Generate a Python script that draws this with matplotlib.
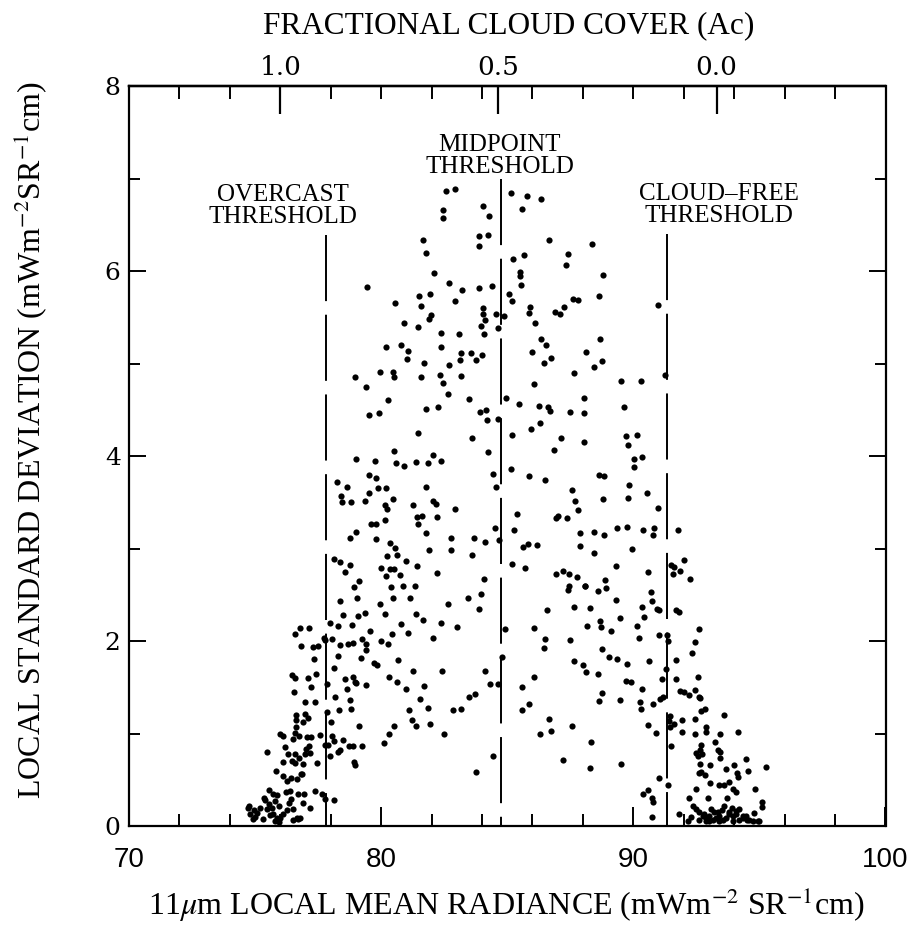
import matplotlib
matplotlib.use('Agg')
import matplotlib.pyplot as plt

# ====================================================================
# DATA (deskewed by eye)
# ====================================================================
# upper part of the broken-cloud arch (std dev ~4.8 - 6.9)
upper_pts = [
    (82.57, 6.87), (82.94, 6.89), (85.14, 6.84), (85.77, 6.81), (86.33, 6.78),
    (84.02, 6.70), (84.26, 6.60), (82.44, 6.66), (82.47, 6.57), (85.60, 6.67),
    (83.86, 6.38), (84.23, 6.39), (83.86, 6.27), (81.66, 6.34), (81.79, 6.20),
    (86.66, 6.33), (88.37, 6.29), (87.42, 6.18), (87.31, 6.07), (85.22, 6.13),
    (85.68, 6.17), (82.08, 5.98), (85.51, 5.99), (85.49, 5.95), (85.55, 5.85),
    (88.79, 5.96), (79.44, 5.83), (82.68, 5.87), (83.20, 5.79), (83.87, 5.82),
    (84.39, 5.84), (81.49, 5.73), (81.92, 5.75), (85.06, 5.75), (85.18, 5.68),
    (82.91, 5.68), (80.55, 5.65), (81.58, 5.62), (88.64, 5.73), (87.59, 5.70),
    (87.82, 5.69), (90.98, 5.63), (85.91, 5.61), (85.87, 5.55), (84.05, 5.60),
    (84.03, 5.54), (84.10, 5.47), (83.94, 5.41), (84.07, 5.32), (84.56, 5.54),
    (84.86, 5.51), (84.64, 5.38), (81.97, 5.52), (81.88, 5.48), (86.89, 5.56),
    (87.09, 5.54), (87.24, 5.61), (80.89, 5.44), (81.46, 5.39), (86.11, 5.44),
    (82.39, 5.33), (83.08, 5.32), (86.32, 5.26), (86.55, 5.20), (80.21, 5.18),
    (80.78, 5.20), (81.07, 5.14), (81.04, 5.05), (82.39, 5.18), (88.68, 5.26),
    (88.11, 5.12), (85.97, 5.12), (86.74, 5.06), (86.46, 5.01), (83.18, 5.11),
    (83.57, 5.11), (83.77, 5.04), (84.01, 5.09), (83.14, 5.04), (81.70, 5.01),
    (82.68, 4.98), (79.94, 4.91), (80.47, 4.91), (80.50, 4.85), (78.95, 4.85),
    (81.59, 4.85), (82.35, 4.88), (83.18, 4.87), (87.66, 4.90), (88.45, 4.96),
    (88.76, 5.03),
]

# middle band (std dev ~2.5 - 4.9)
middle_pts = [
    (79.39, 4.75), (80.29, 4.61), (79.51, 4.44), (79.93, 4.47), (81.78, 4.51),
    (82.27, 4.53), (82.44, 4.79), (82.64, 4.67), (83.50, 4.62), (83.90, 4.48),
    (84.15, 4.50), (84.18, 4.39), (84.63, 4.40), (84.96, 4.63), (85.46, 4.56),
    (86.25, 4.54), (86.61, 4.53), (86.69, 4.49), (86.07, 4.78), (88.06, 4.63),
    (87.48, 4.48), (88.05, 4.47), (89.52, 4.81), (90.31, 4.81), (89.63, 4.53),
    (91.26, 4.88), (81.46, 4.25), (83.62, 4.19), (85.18, 4.23), (85.96, 4.29),
    (86.29, 4.36), (87.15, 4.20), (88.05, 4.15), (89.71, 4.22), (90.15, 4.23),
    (89.77, 4.12), (84.25, 4.04), (86.87, 4.07), (80.50, 4.05), (79.01, 3.97),
    (79.75, 3.95), (80.58, 3.92), (80.89, 3.89), (81.38, 3.93), (81.86, 3.92),
    (82.05, 4.01), (82.36, 3.95), (90.02, 3.97), (90.34, 3.99), (90.02, 3.88),
    (85.13, 3.86), (84.42, 3.81), (84.55, 3.67), (85.88, 3.78), (86.51, 3.74),
    (88.62, 3.80), (88.82, 3.78), (79.52, 3.79), (79.81, 3.76), (78.24, 3.72),
    (78.63, 3.67), (81.76, 3.67), (79.88, 3.65), (80.19, 3.65), (78.40, 3.57),
    (78.45, 3.50), (78.82, 3.50), (79.51, 3.60), (79.36, 3.51), (80.45, 3.54),
    (87.58, 3.63), (89.81, 3.69),
    (80.14, 3.47), (80.23, 3.43), (81.26, 3.47), (82.04, 3.51), (82.18, 3.48),
    (82.91, 3.43), (87.68, 3.51), (87.79, 3.42), (88.78, 3.54), (89.80, 3.55),
    (90.54, 3.60), (90.96, 3.44), (81.42, 3.34), (81.60, 3.35), (81.46, 3.26),
    (82.21, 3.34), (80.16, 3.31), (79.59, 3.27), (79.80, 3.26), (85.38, 3.37),
    (86.93, 3.33), (87.03, 3.35), (87.35, 3.33), (79.01, 3.18), (78.78, 3.11),
    (79.81, 3.10), (81.78, 3.17), (84.52, 3.22), (84.68, 3.09), (85.27, 3.20),
    (87.88, 3.17), (88.44, 3.18), (88.85, 3.15), (89.35, 3.22), (89.73, 3.23),
    (90.39, 3.20), (90.80, 3.22), (90.77, 3.15), (91.79, 3.20), (82.75, 3.11),
    (83.70, 3.11), (84.11, 3.07), (80.34, 3.06), (80.55, 3.01), (81.89, 2.98),
    (82.76, 2.98), (83.62, 2.93), (85.64, 3.02), (85.82, 3.05), (86.18, 3.04),
    (87.87, 3.03), (88.44, 2.95), (89.94, 3.00), (78.12, 2.89), (78.37, 2.85),
    (78.58, 2.75), (78.78, 2.82), (80.23, 2.92), (80.63, 2.93), (80.97, 2.87),
    (80.01, 2.79), (80.36, 2.78), (80.50, 2.78), (80.18, 2.70), (80.73, 2.71),
    (81.41, 2.81), (82.21, 2.73), (85.18, 2.83), (85.72, 2.79), (86.93, 2.72),
    (87.20, 2.76), (87.45, 2.72), (87.75, 2.69), (88.08, 2.60), (89.31, 2.81),
    (90.60, 2.75), (88.87, 2.66), (91.51, 2.82), (91.62, 2.80), (91.99, 2.88),
    (91.84, 2.76), (91.58, 2.72), (92.23, 2.67), (79.11, 2.65), (78.94, 2.58),
    (80.39, 2.58), (80.87, 2.59), (81.34, 2.59), (84.06, 2.67), (87.45, 2.60),
    (88.10, 2.59),
]

# lower left: near-overcast side (std dev < 2.5)
lower_left_pts = [
    (78.37, 2.43), (79.04, 2.47), (80.47, 2.46), (81.14, 2.47), (79.97, 2.40),
    (82.66, 2.40), (83.44, 2.47), (83.86, 2.35), (83.94, 2.51), (78.49, 2.28),
    (79.10, 2.27), (79.35, 2.30), (80.14, 2.29), (81.37, 2.29), (81.66, 2.23),
    (77.98, 2.20), (78.27, 2.16), (78.85, 2.17), (82.38, 2.20), (80.77, 2.18),
    (76.80, 2.14), (77.13, 2.14), (76.58, 2.08), (77.73, 2.03), (77.77, 2.01),
    (78.07, 2.02), (79.56, 2.11), (80.43, 2.08), (81.06, 2.09), (82.05, 2.03),
    (83.00, 2.15), (84.92, 2.13), (76.82, 1.95), (77.30, 1.94), (77.51, 1.95),
    (78.38, 1.96), (78.69, 1.97), (78.89, 1.98), (79.24, 2.02), (79.41, 1.97),
    (79.98, 2.00), (80.27, 1.97), (79.40, 1.90), (77.32, 1.81), (78.27, 1.84),
    (79.19, 1.82), (80.67, 1.80), (79.71, 1.76), (79.84, 1.74), (78.14, 1.71),
    (81.26, 1.68), (82.41, 1.68), (84.78, 1.83), (84.12, 1.68), (76.48, 1.63),
    (76.58, 1.60), (77.11, 1.60), (77.43, 1.64), (77.85, 1.54), (78.56, 1.59),
    (78.87, 1.61), (78.95, 1.56), (79.02, 1.55), (79.39, 1.52), (80.31, 1.61),
    (80.64, 1.56), (80.98, 1.48), (81.70, 1.51), (84.30, 1.54), (84.62, 1.54),
    (76.56, 1.45), (77.20, 1.50), (78.18, 1.39), (78.66, 1.48), (78.78, 1.36),
    (76.99, 1.34), (77.38, 1.34), (81.55, 1.37), (81.84, 1.28), (83.49, 1.39),
    (83.74, 1.43), (78.32, 1.25), (78.81, 1.26), (77.86, 1.23), (76.64, 1.20),
    (76.97, 1.21), (77.10, 1.17), (76.61, 1.15), (81.10, 1.25), (82.84, 1.25),
    (83.16, 1.27), (76.89, 1.12), (76.63, 1.07), (78.03, 1.12), (79.13, 1.08),
    (80.52, 1.08), (81.24, 1.15), (81.39, 1.08), (81.94, 1.10), (75.98, 0.99),
    (76.10, 0.97), (76.57, 1.01), (76.52, 0.94), (76.76, 0.97), (77.07, 0.96),
    (77.20, 0.96), (77.14, 0.87), (77.59, 0.98), (77.76, 0.88), (77.88, 0.88),
    (78.07, 0.97), (78.13, 0.92), (78.50, 0.93), (78.73, 0.87), (78.87, 0.86),
    (79.23, 0.87), (80.32, 0.99), (80.10, 0.90), (82.50, 1.00), (75.47, 0.80),
    (76.17, 0.85), (76.31, 0.78), (76.59, 0.78), (76.73, 0.73), (77.03, 0.83),
    (76.96, 0.78), (77.16, 0.79), (77.47, 0.68), (77.98, 0.76), (78.30, 0.80),
    (78.36, 0.82), (78.91, 0.69), (78.95, 0.66), (76.10, 0.69), (76.46, 0.70),
    (76.57, 0.68), (76.89, 0.67), (76.85, 0.56), (75.84, 0.60), (76.10, 0.54),
    (76.44, 0.52), (76.26, 0.49), (76.67, 0.51), (76.83, 0.56), (75.54, 0.39),
    (75.73, 0.35), (75.87, 0.33), (76.21, 0.37), (76.39, 0.38), (76.70, 0.35),
    (76.94, 0.35), (77.38, 0.38), (77.65, 0.35), (75.34, 0.30), (75.77, 0.27),
    (76.42, 0.29), (76.90, 0.25), (77.19, 0.19), (78.12, 0.28), (77.78, 0.29),
    (83.75, 0.58), (84.45, 0.76),
]

# overcast cluster at the bottom left
overcast_pts = [
    (74.74, 0.22), (74.94, 0.17), (75.21, 0.20), (75.47, 0.18), (75.67, 0.20),
    (75.73, 0.13), (75.87, 0.09), (76.00, 0.09), (76.26, 0.17), (76.49, 0.18),
    (76.66, 0.09), (76.79, 0.09), (74.72, 0.20), (74.81, 0.13), (75.08, 0.14),
    (75.54, 0.24), (75.80, 0.05), (75.93, 0.04), (76.52, 0.07), (76.72, 0.08),
    (75.00, 0.10), (75.30, 0.08), (75.60, 0.12), (76.10, 0.13), (75.40, 0.28),
    (75.95, 0.22), (76.35, 0.25), (74.90, 0.08),
]

# lower right: near-clear side
lower_right_pts = [
    (87.39, 2.55), (88.58, 2.54), (88.91, 2.57), (90.69, 2.53), (91.71, 2.33),
    (91.83, 2.31), (86.59, 2.33), (87.63, 2.37), (88.29, 2.36), (89.33, 2.44),
    (90.33, 2.37), (90.44, 2.26), (90.73, 2.43), (90.93, 2.35), (91.02, 2.34),
    (89.46, 2.25), (86.08, 2.14), (88.16, 2.16), (88.69, 2.22), (88.71, 2.15),
    (89.11, 2.11), (90.13, 2.16), (92.61, 2.13), (86.50, 2.02), (86.46, 1.92),
    (87.49, 2.01), (90.23, 2.03), (91.02, 2.07), (91.35, 2.06), (91.38, 2.00),
    (92.45, 1.99), (92.34, 1.87), (88.74, 1.91), (87.66, 1.78), (87.99, 1.74),
    (88.11, 1.67), (89.04, 1.83), (89.37, 1.81), (89.73, 1.75), (90.63, 1.78),
    (91.68, 1.80), (86.05, 1.61), (88.61, 1.64), (89.70, 1.57), (89.90, 1.56),
    (90.35, 1.48), (91.13, 1.59), (91.29, 1.70), (91.68, 1.59), (92.57, 1.61),
    (85.60, 1.50), (85.85, 1.32), (85.57, 1.25), (88.76, 1.44), (88.63, 1.35),
    (89.46, 1.36), (90.27, 1.34), (90.32, 1.26), (90.78, 1.32), (91.07, 1.37),
    (91.18, 1.40), (91.87, 1.46), (92.00, 1.45), (92.19, 1.42), (92.43, 1.47),
    (92.60, 1.40), (92.66, 1.38), (92.70, 1.24), (92.83, 1.26), (93.61, 1.20),
    (91.47, 1.19), (91.40, 1.13), (91.92, 1.15), (92.46, 1.16), (91.60, 1.10),
    (86.65, 1.16), (86.72, 1.03), (86.29, 1.00), (87.58, 1.08), (88.34, 0.91),
    (87.22, 0.71), (88.30, 0.63), (89.51, 0.67), (90.60, 1.09), (90.90, 1.01),
    (91.93, 1.02), (92.43, 0.99), (92.89, 1.07), (92.88, 1.02), (93.45, 0.99),
    (94.14, 1.02), (91.47, 1.07), (91.51, 0.87), (92.70, 0.88), (92.66, 0.82),
    (92.72, 0.78), (93.25, 0.91), (93.35, 0.82), (93.45, 0.80), (92.47, 0.79),
    (92.57, 0.76), (92.66, 0.67), (92.62, 0.57), (93.06, 0.66), (93.45, 0.73),
    (93.68, 0.62), (94.01, 0.66), (94.17, 0.53), (94.45, 0.72), (94.53, 0.60),
    (95.25, 0.64), (91.03, 0.52), (91.39, 0.44), (92.70, 0.58), (92.86, 0.55),
    (93.05, 0.46), (93.41, 0.44), (93.61, 0.44), (93.81, 0.48), (92.49, 0.40),
    (93.94, 0.40), (94.07, 0.37), (94.11, 0.57), (94.84, 0.40), (95.10, 0.26),
    (90.57, 0.39), (90.38, 0.35), (90.75, 0.30), (90.77, 0.26), (90.73, 0.10),
    (91.83, 0.13),
]

# cloud-free cluster at the bottom right
clear_pts = [
    (92.35, 0.22), (92.49, 0.18), (92.62, 0.15), (92.75, 0.11), (92.88, 0.09),
    (93.02, 0.11), (93.15, 0.07), (93.28, 0.09), (93.41, 0.11), (93.54, 0.07),
    (93.68, 0.09), (93.81, 0.15), (93.94, 0.11), (94.07, 0.13), (94.20, 0.07),
    (94.34, 0.09), (94.47, 0.11), (94.60, 0.06), (94.73, 0.05), (94.99, 0.05),
    (92.16, 0.05), (92.88, 0.05), (93.41, 0.05), (93.94, 0.05), (92.82, 0.13),
    (93.08, 0.18), (93.34, 0.15), (93.61, 0.22), (93.81, 0.13), (94.07, 0.16),
    (94.34, 0.11), (94.93, 0.05), (95.12, 0.21), (92.30, 0.10), (92.60, 0.06),
    (93.00, 0.05), (93.20, 0.15), (93.50, 0.17), (93.90, 0.20), (94.20, 0.18),
    (94.50, 0.06), (94.80, 0.14), (92.20, 0.30), (92.95, 0.30), (93.70, 0.30),
]

# threshold lines: radiance, top of the dashed line, label
threshold_x = [77.83, 84.75, 91.35]
threshold_top = [6.39, 6.99, 6.40]
threshold_labels = ['OVERCAST\nTHRESHOLD', 'MIDPOINT\nTHRESHOLD', 'CLOUD\u2013FREE\nTHRESHOLD']

# top axis: fractional cloud cover
cover_ticks = [1.0, 0.5, 0.0]
cover_labels = ['1.0', '0.5', '0.0']
RAD_CLEAR = 93.3      # radiance at Ac = 0
RAD_SPAN = 17.3       # radiance change from Ac = 0 to Ac = 1

x_major = [70, 80, 90, 100]
x_minor = list(range(72, 100, 2))
y_major = [0, 2, 4, 6, 8]
y_minor = [1, 3, 5, 7]

# ====================================================================
# PLOT
# ====================================================================
plt.rcParams['font.family'] = ['Liberation Serif', 'DejaVu Serif']
plt.rcParams['mathtext.fontset'] = 'stix'

fig = plt.figure(figsize=(9.15, 9.3), dpi=100)
ax = fig.add_axes([129 / 915, 1 - 826 / 930, 756.5 / 915, 740 / 930])

for pts in (upper_pts, middle_pts, lower_left_pts, overcast_pts,
            lower_right_pts, clear_pts):
    xs, ys = zip(*pts)
    ax.scatter(xs, ys, s=20, c='black', linewidths=0, zorder=3)

for x0, top in zip(threshold_x, threshold_top):
    ax.plot([x0, x0], [top, 0], color='black', lw=1.4,
            linestyle=(0, (34, 7)), zorder=2)

label_x = [76.10, 84.71, 93.38]
label_y = [6.70, 7.24, 6.71]
for lx, ly, txt in zip(label_x, label_y, threshold_labels):
    ax.text(lx, ly, txt, ha='center', va='center', fontsize=18,
            linespacing=1.0)

ax.set_xlim(70, 100)
ax.set_ylim(0, 8)
ax.set_xticks(x_major)
ax.set_xticks(x_minor, minor=True)
ax.set_yticks(y_major)
ax.set_yticks(y_minor, minor=True)

ax.tick_params(axis='x', which='major', direction='in', length=14, width=1.4,
               pad=15, labelsize=20, top=False)
ax.tick_params(axis='x', which='minor', direction='in', length=9, width=1.4,
               top=False)
ax.tick_params(axis='y', which='major', direction='in', length=12, width=1.4,
               left=True, right=True, pad=6, labelsize=18)
ax.tick_params(axis='y', which='minor', direction='in', length=8, width=1.4,
               left=True, right=True)
for lbl in ax.get_xticklabels():
    lbl.set_fontfamily('Liberation Sans')
for lbl in ax.get_yticklabels():
    lbl.set_fontfamily('DejaVu Serif')

for sp in ax.spines.values():
    sp.set_linewidth(1.6)

# even radiance ticks along the top edge
top_rad = ax.secondary_xaxis('top')
top_rad.set_xticks(x_minor)
top_rad.tick_params(axis='x', direction='in', length=9, width=1.4,
                    labeltop=False, labelbottom=False)
top_rad.spines['top'].set_linewidth(1.6)


def rad_to_cover(x):
    return (RAD_CLEAR - x) / RAD_SPAN


def cover_to_rad(a):
    return RAD_CLEAR - RAD_SPAN * a


top_cover = ax.secondary_xaxis('top', functions=(rad_to_cover, cover_to_rad))
top_cover.set_xticks(cover_ticks)
top_cover.set_xticklabels(cover_labels, fontfamily='DejaVu Serif')
top_cover.tick_params(axis='x', direction='in', length=20, width=1.6,
                      pad=4, labelsize=19)
top_cover.spines['top'].set_linewidth(1.6)

fig.text(0.556, 0.972, 'FRACTIONAL CLOUD COVER (Ac)', ha='center',
         va='center', fontsize=22.5)
fig.text(0.554, 0.027,
         '11$\\mu$m LOCAL MEAN RADIANCE (mWm$^{-2}$ SR$^{-1}$cm)',
         ha='center', va='center', fontsize=23)
fig.text(0.033, 0.527, 'LOCAL STANDARD DEVIATION (mWm$^{-2}$SR$^{-1}$cm)',
         ha='center', va='center', rotation=90, fontsize=23)

fig.savefig('out.png', dpi=100)
plt.close(fig)
